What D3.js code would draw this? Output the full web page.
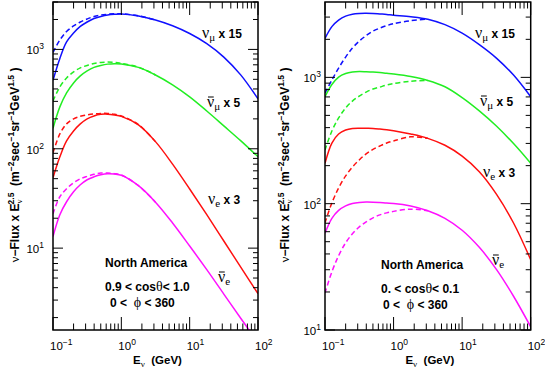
<!DOCTYPE html>
<html>
<head>
<meta charset="utf-8">
<script src="https://cdn.jsdelivr.net/npm/d3@7"></script>
<style>
  body { margin: 0; background: #fff; }
  svg text { font-family: "Liberation Sans", Arial, sans-serif; }
</style>
</head>
<body>
<svg width="545" height="368"></svg>
<script>
// neutrino energy grid (GeV)
const energies = [0.1, 0.126, 0.158, 0.2, 0.251, 0.316, 0.398, 0.501, 0.631, 0.794, 1, 1.78, 3.16, 5.62, 10, 17.8, 31.6, 56.2, 100];

// 0.9 < cos(theta) < 1.0  (solid / dashed)
const leftNumu = [488, 811, 1189, 1462, 1702, 1888, 2046, 2143, 2218, 2254, 2270, 2168, 1977, 1730, 1445, 1143, 837, 551, 318];
const leftNumuDash = [931, 1245, 1514, 1722, 1888, 2023, 2143, 2218, 2259, 2280, 2280, 2178, 1977];
const leftNumubar = [161, 264, 365, 460, 541, 607, 659, 690, 711, 718, 714, 659, 553, 440, 333, 240, 170, 120, 83];
const leftNumubarDash = [303, 420, 516, 593, 652, 690, 723, 740, 745, 740, 723, 662, 553];
const leftNue = [51.1, 83.0, 120, 151, 178, 200, 214, 222, 223, 219, 212, 174, 118, 70.1, 39.4, 21.7, 11.8, 6.40, 3.48];
const leftNueDash = [91.0, 141, 178, 200, 212, 219, 224, 227, 227, 222, 214, 175, 118];
const leftNuebar = [13.1, 21.7, 29.3, 36.9, 43.4, 48.8, 52.2, 54.7, 56.0, 55.6, 54.1, 42.5, 29.0, 17.9, 10.5, 6.07, 3.45, 1.96, 1.12];
const leftNuebarDash = [22.2, 32.9, 39.6, 45.5, 49.9, 52.8, 55.3, 56.9, 56.9, 56.2, 54.5, 42.5, 29.0];

// 0. < cos(theta) < 0.1
const rightNumu = [2033, 2521, 2838, 3052, 3164, 3206, 3213, 3206, 3177, 3148, 3105, 3024, 2888, 2614, 2239, 1816, 1421, 1042, 703];
const rightNumuDash = [751, 952, 1185, 1447, 1705, 1936, 2140, 2323, 2453, 2567, 2662, 2812, 2888];
const rightNumubar = [703, 877, 1005, 1072, 1101, 1111, 1107, 1101, 1091, 1077, 1062, 1014, 946, 843, 692, 543, 412, 299, 209];
const rightNumubarDash = [266, 376, 477, 572, 649, 711, 765, 808, 838, 869, 893, 932, 946];
const rightNue = [209, 302, 356, 383, 394, 396, 395, 394, 390, 385, 378, 356, 329, 290, 238, 179, 119, 70.3, 36.0];
const rightNueDash = [70.5, 101.5, 133, 166, 195, 222, 248, 269, 286, 302, 314, 338, 329];
const rightNuebar = [58.4, 76.5, 88.5, 96.0, 100.5, 102.4, 102.9, 102.7, 102.0, 101.1, 100.5, 96.0, 88.0, 76.6, 61.6, 45.1, 30.2, 18.5, 10.6];
const rightNuebarDash = [19.6, 28.9, 38.7, 49.0, 57.7, 65.5, 71.8, 77.2, 81.5, 84.6, 86.9, 90.5, 88.0];

const colors = ["#1010ff", "#22ee22", "#ff1010", "#ff10ff"];
const flavours = ["numu", "numubar", "nue", "nuebar"];
const flavourText = { numu: ["μ", false, " x 15"], numubar: ["μ", true, " x 5"], nue: ["e", false, " x 3"], nuebar: ["e", true, ""] };

const svg = d3.select("svg");
const greek = "'Liberation Serif', 'DejaVu Serif', serif";

// text with tspans; shift < 0 raises
function rich(g, x, y, parts) {
  const t = g.append("text").attr("x", x).attr("y", y);
  let cur = 0;
  parts.forEach(p => {
    const s = t.append("tspan").text(p.t);
    const sh = p.shift || 0;
    s.attr("dy", sh - cur);
    cur = sh;
    if (p.size) s.attr("font-size", p.size);
    if (p.weight) s.attr("font-weight", p.weight);
    if (p.family) s.attr("font-family", p.family);
    if (p.dx) s.attr("dx", p.dx);
  });
  return t;
}

function drawPanel(p) {
  const g = svg.append("g");
  const x = d3.scaleLog().domain([0.1, 100]).range([p.left, p.right]);
  const y = d3.scaleLog().domain(p.yDomain).range([p.bottom, p.top]);

  const clipId = "clip" + p.id;
  svg.append("clipPath").attr("id", clipId).append("rect")
    .attr("x", p.left).attr("y", p.top)
    .attr("width", p.right - p.left).attr("height", p.bottom - p.top);

  const line = d3.line()
    .x((d, i) => x(energies[i]))
    .y(d => y(d))
    .curve(d3.curveCatmullRom.alpha(0.5));

  const curves = g.append("g").attr("clip-path", `url(#${clipId})`);
  p.series.forEach((s, i) => {
    curves.append("path").attr("d", line(s.solid))
      .attr("fill", "none").attr("stroke", colors[i]).attr("stroke-width", 1.5);
    curves.append("path").attr("d", line(s.dash))
      .attr("fill", "none").attr("stroke", colors[i]).attr("stroke-width", 1.5)
      .attr("stroke-dasharray", "5,3");
  });

  // frame
  g.append("rect").attr("x", p.left).attr("y", p.top)
    .attr("width", p.right - p.left).attr("height", p.bottom - p.top)
    .attr("fill", "none").attr("stroke", "#000").attr("stroke-width", 1.5);

  const isMajor = v => Math.abs(Math.log10(v) - Math.round(Math.log10(v))) < 1e-6;
  const ticks = g.append("g").attr("stroke", "#000").attr("stroke-width", 1);
  x.ticks().forEach(v => {
    const len = isMajor(v) ? 13 : 6.5;
    const px = x(v);
    ticks.append("line").attr("x1", px).attr("x2", px).attr("y1", p.bottom).attr("y2", p.bottom - len);
    ticks.append("line").attr("x1", px).attr("x2", px).attr("y1", p.top).attr("y2", p.top + len);
  });
  y.ticks().forEach(v => {
    const len = isMajor(v) ? 10 : 5;
    const py = y(v);
    ticks.append("line").attr("x1", p.left).attr("x2", p.left + len).attr("y1", py).attr("y2", py);
    ticks.append("line").attr("x1", p.right).attr("x2", p.right - len).attr("y1", py).attr("y2", py);
  });

  // tick labels
  const lab = g.append("g").attr("font-size", 11.5).attr("fill", "#000");
  x.ticks().filter(isMajor).forEach(v => {
    const e = Math.round(Math.log10(v));
    rich(lab, x(v) - 3, p.bottom + 20, [{ t: "10" }, { t: e < 0 ? "−" + (-e) : String(e), shift: -5, size: 8.5 }]);
  });
  y.ticks().filter(isMajor).forEach(v => {
    const e = Math.round(Math.log10(v));
    rich(lab, p.left - p.yLabGap, y(v) + 5, [{ t: "10" }, { t: String(e), shift: -5, size: 8.5 }])
      .attr("text-anchor", "end");
  });

  // axis titles
  rich(g, (p.left + p.right) / 2 + 2, 364, [
    { t: "E", weight: "bold", size: 11.5 },
    { t: "ν", shift: 3, size: 9, family: greek },
    { t: "  (GeV)", shift: 0, weight: "bold", size: 11.5 }
  ]).attr("text-anchor", "middle").attr("xml:space", "preserve");

  rich(g, 0, 0, [
    { t: "ν", family: greek, size: 13 },
    { t: "−Flux x E", weight: "bold" },
    { t: "ν", shift: 3, size: 9, family: greek },
    { t: "2.5", shift: -5, size: 8.5, weight: "bold", dx: -5 },
    { t: "  (m", shift: 0, weight: "bold" },
    { t: "−2", shift: -5, size: 8.5, weight: "bold" },
    { t: "sec", shift: 0, weight: "bold" },
    { t: "−1", shift: -5, size: 8.5, weight: "bold" },
    { t: "sr", shift: 0, weight: "bold" },
    { t: "−1", shift: -5, size: 8.5, weight: "bold" },
    { t: "GeV", shift: 0, weight: "bold" },
    { t: "1.5", shift: -5, size: 8.5, weight: "bold" },
    { t: " )", shift: 0, weight: "bold" }
  ]).attr("text-anchor", "middle").attr("font-size", 12).attr("xml:space", "preserve")
    .attr("transform", `translate(${p.titleX},${p.titleY}) rotate(-90)`);

  // curve labels
  flavours.forEach((f, i) => {
    const [sub, bar, mult] = flavourText[f];
    const pos = p.labels[i];
    const t = rich(g, pos[0], pos[1], [
      { t: "ν", family: greek, size: 16 },
      { t: sub, shift: 3, size: 11, family: greek },
      { t: mult, shift: 0, weight: "bold", size: 12 }
    ]).attr("xml:space", "preserve");
    if (bar) {
      const ext = t.node().getExtentOfChar(0);
      g.append("line").attr("x1", ext.x + 1).attr("x2", ext.x + ext.width - 0.5)
        .attr("y1", pos[1] - 10).attr("y2", pos[1] - 10)
        .attr("stroke", "#000").attr("stroke-width", 1);
    }
  });

  // region text
  const info = g.append("g").attr("font-weight", "bold").attr("font-size", 12);
  info.append("text").attr("x", p.info[0]).attr("y", p.info[1]).text("North America");
  rich(info, p.info[0], p.info[1] + 24, [
    { t: p.cosText[0] + " < cos" },
    { t: "θ", family: greek, weight: "normal", size: 14 },
    { t: "< " + p.cosText[1] }
  ]);
  rich(info, p.info[0] + p.phiDx, p.info[1] + 40, [
    { t: "0 <  " },
    { t: "ϕ", family: greek, weight: "normal", size: 14 },
    { t: " < 360" }
  ]).attr("xml:space", "preserve");
}

drawPanel({
  id: "L", left: 53, right: 258, top: 2, bottom: 330, yDomain: [1.5, 3000], yLabGap: 9,
  titleX: 19, titleY: 165,
  series: [
    { solid: leftNumu, dash: leftNumuDash },
    { solid: leftNumubar, dash: leftNumubarDash },
    { solid: leftNue, dash: leftNueDash },
    { solid: leftNuebar, dash: leftNuebarDash }
  ],
  labels: [[202, 38], [207, 107], [208, 204], [218, 282]],
  info: [105, 267], cosText: ["0.9", "1.0"], phiDx: 5
});

drawPanel({
  id: "R", left: 325, right: 530.7, top: 2, bottom: 330, yDomain: [10, 3950], yLabGap: 4,
  titleX: 289, titleY: 165,
  series: [
    { solid: rightNumu, dash: rightNumuDash },
    { solid: rightNumubar, dash: rightNumubarDash },
    { solid: rightNue, dash: rightNueDash },
    { solid: rightNuebar, dash: rightNuebarDash }
  ],
  labels: [[475, 38], [480, 106], [483, 177], [492, 265]],
  info: [381, 269], cosText: ["0.", "0.1"], phiDx: 2
});
</script>
</body>
</html>
